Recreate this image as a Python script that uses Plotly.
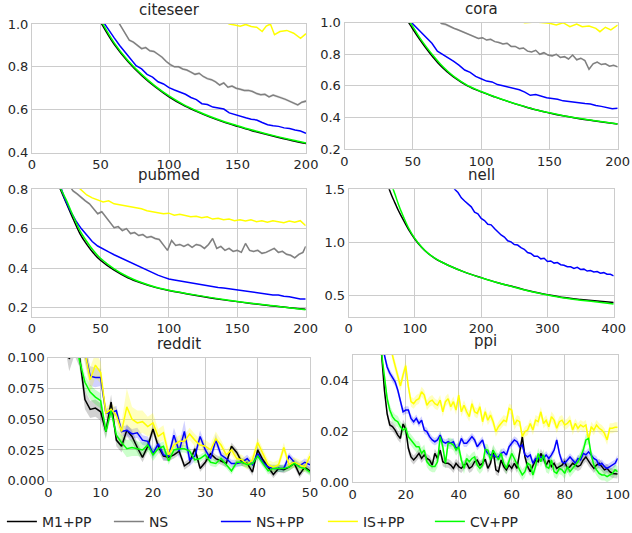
import plotly.graph_objects as go
from plotly.subplots import make_subplots

W, H = 632, 533
METHODS = ["M1+PP", "NS", "NS+PP", "IS+PP", "CV+PP"]
COLORS = {"M1+PP": "#000000", "NS": "#808080", "NS+PP": "#0000ff",
          "IS+PP": "#ffff00", "CV+PP": "#00ff00"}
BANDS = {"M1+PP": "rgba(0,0,0,0.18)", "NS": "rgba(128,128,128,0.2)",
         "NS+PP": "rgba(0,0,255,0.18)", "IS+PP": "rgba(255,255,0,0.25)",
         "CV+PP": "rgba(0,255,0,0.2)"}
TITLES = ["citeseer", "cora", "pubmed", "nell", "reddit", "ppi"]

# ---------------- citeseer ----------------
CITESEER_M1_X = [50, 60, 70, 80, 90, 100, 110, 120, 130, 140, 150, 160, 170, 180, 190, 200]
CITESEER_M1_Y = [1.01, 0.905, 0.825, 0.76, 0.706, 0.66, 0.622, 0.592, 0.565, 0.542, 0.522, 0.503, 0.486, 0.47, 0.455, 0.442]
CITESEER_CV_Y = [1.02, 0.912, 0.83, 0.765, 0.71, 0.664, 0.626, 0.595, 0.568, 0.545, 0.525, 0.506, 0.489, 0.473, 0.458, 0.444]
CITESEER_NSPP_X = list(range(52, 201, 4))
CITESEER_NSPP_Y = [1.01, 0.97, 0.935, 0.9, 0.87, 0.835, 0.805, 0.79, 0.765, 0.752,
                   0.73, 0.72, 0.703, 0.692, 0.683, 0.672, 0.657, 0.647, 0.628, 0.624,
                   0.612, 0.607, 0.603, 0.585, 0.577, 0.567, 0.562, 0.555, 0.552, 0.54,
                   0.53, 0.525, 0.522, 0.515, 0.512, 0.505, 0.5, 0.49]
CITESEER_NS_X = list(range(62, 201, 3))
CITESEER_NS_Y = [1.02, 0.99, 0.955, 0.925, 0.915, 0.9, 0.885, 0.89, 0.875, 0.872,
                 0.86, 0.845, 0.825, 0.81, 0.8, 0.8, 0.79, 0.785, 0.775, 0.765,
                 0.77, 0.755, 0.745, 0.74, 0.73, 0.715, 0.725, 0.705, 0.71, 0.7,
                 0.695, 0.69, 0.69, 0.685, 0.675, 0.67, 0.672, 0.66, 0.668, 0.66,
                 0.655, 0.648, 0.64, 0.632, 0.622, 0.635, 0.64]
CITESEER_IS_X = [138, 144, 148, 152, 156, 160, 164, 168, 171, 174, 177, 181, 186, 191, 196, 200]
CITESEER_IS_Y = [1.02, 1.0, 0.995, 0.99, 0.998, 0.988, 0.985, 0.965, 0.99, 1.0, 0.95, 0.965, 0.97, 0.957, 0.933, 0.955]

# ---------------- cora ----------------
CORA_M1_X = [47, 50, 55, 60, 65, 70, 75, 80, 90, 100, 110, 120, 130, 140, 150, 160, 170, 180, 190, 200]
CORA_M1_Y = [1.0, 0.96, 0.895, 0.835, 0.78, 0.73, 0.69, 0.655, 0.6, 0.562, 0.53, 0.5, 0.473, 0.448, 0.428, 0.41, 0.395, 0.382, 0.37, 0.358]
CORA_CV_X = [48, 50, 55, 60, 65, 70, 75, 80, 90, 100, 110, 120, 130, 140, 150, 160, 170, 180, 190, 200]
CORA_CV_Y = [1.0, 0.975, 0.905, 0.845, 0.79, 0.74, 0.697, 0.66, 0.603, 0.564, 0.531, 0.501, 0.474, 0.449, 0.429, 0.411, 0.396, 0.383, 0.371, 0.359]
CORA_NSPP_X = list(range(48, 201, 4))
CORA_NSPP_Y = [1.01, 0.975, 0.935, 0.9, 0.87, 0.82, 0.8, 0.78, 0.755, 0.73,
               0.7, 0.685, 0.66, 0.645, 0.63, 0.625, 0.608, 0.6, 0.593, 0.585,
               0.575, 0.56, 0.54, 0.545, 0.535, 0.525, 0.52, 0.515, 0.505, 0.5,
               0.495, 0.49, 0.488, 0.485, 0.475, 0.47, 0.462, 0.455, 0.458]
CORA_NS_X = list(range(68, 201, 3))
CORA_NS_Y = [1.02, 0.995, 0.99, 0.975, 0.965, 0.955, 0.945, 0.935, 0.925, 0.915,
             0.9, 0.905, 0.89, 0.895, 0.88, 0.875, 0.865, 0.87, 0.85, 0.85,
             0.835, 0.84, 0.82, 0.815, 0.825, 0.8, 0.81, 0.795, 0.79, 0.8,
             0.78, 0.785, 0.77, 0.795, 0.765, 0.775, 0.76, 0.705, 0.74, 0.75,
             0.735, 0.74, 0.725, 0.73, 0.72]
CORA_IS_X = [125, 132, 140, 146, 150, 155, 160, 165, 170, 174, 179, 184, 187, 191, 195, 200]
CORA_IS_Y = [1.02, 1.0, 1.005, 1.002, 0.996, 0.985, 1.0, 0.975, 0.992, 0.975, 0.979, 0.964, 0.943, 0.971, 0.954, 0.985]

# ---------------- pubmed ----------------
PUBMED_M1_X = [20, 25, 30, 35, 40, 45, 50, 60, 70, 80, 90, 100, 120, 140, 160, 180, 200]
PUBMED_M1_Y = [0.81, 0.73, 0.65, 0.575, 0.52, 0.475, 0.44, 0.39, 0.352, 0.325, 0.303, 0.287, 0.262, 0.24, 0.222, 0.206, 0.192]
PUBMED_CV_X = [21, 25, 30, 35, 40, 45, 50, 60, 70, 80, 90, 100, 120, 140, 160, 180, 200]
PUBMED_CV_Y = [0.8, 0.745, 0.665, 0.59, 0.535, 0.488, 0.45, 0.397, 0.357, 0.328, 0.305, 0.289, 0.264, 0.242, 0.223, 0.207, 0.19]
PUBMED_NSPP_X = list(range(20, 201, 4))
PUBMED_NSPP_Y = [0.83, 0.75, 0.69, 0.64, 0.6, 0.565, 0.535, 0.512, 0.495, 0.482,
                 0.468, 0.455, 0.44, 0.428, 0.418, 0.405, 0.39, 0.378, 0.365, 0.355,
                 0.345, 0.34, 0.335, 0.332, 0.325, 0.322, 0.318, 0.312, 0.305, 0.303,
                 0.3, 0.296, 0.29, 0.288, 0.283, 0.278, 0.275, 0.27, 0.268, 0.265,
                 0.265, 0.258, 0.256, 0.252, 0.245, 0.245]
PUBMED_NS_X = list(range(27, 199, 3)) + [200]
PUBMED_NS_Y = [0.82, 0.79, 0.775, 0.755, 0.74, 0.725, 0.7, 0.675, 0.685, 0.66,
               0.63, 0.605, 0.61, 0.59, 0.6, 0.575, 0.58, 0.565, 0.57, 0.555,
               0.56, 0.55, 0.545, 0.52, 0.49, 0.54, 0.515, 0.52, 0.51, 0.52,
               0.505, 0.52, 0.515, 0.5, 0.52, 0.55, 0.5, 0.51, 0.49, 0.5,
               0.485, 0.49, 0.48, 0.525, 0.49, 0.485, 0.49, 0.475, 0.48, 0.49,
               0.5, 0.48, 0.485, 0.47, 0.465, 0.452, 0.47, 0.48,
               0.51]
PUBMED_IS_X = list(range(32, 201, 4))
PUBMED_IS_Y = [0.82, 0.795, 0.77, 0.755, 0.745, 0.735, 0.74, 0.725, 0.72, 0.715,
               0.71, 0.705, 0.7, 0.69, 0.685, 0.68, 0.675, 0.678, 0.668, 0.672,
               0.665, 0.66, 0.662, 0.655, 0.66, 0.648, 0.652, 0.645, 0.648, 0.64,
               0.645, 0.638, 0.645, 0.635, 0.64, 0.632, 0.64, 0.635, 0.63, 0.638,
               0.632, 0.64, 0.615]

# ---------------- nell ----------------
NELL_M1_X = [60, 65, 70, 75, 80, 90, 100, 110, 120, 130, 140, 150, 175, 200, 225, 250, 275, 300, 325, 350, 375, 400]
NELL_M1_Y = [1.52, 1.44, 1.37, 1.3, 1.24, 1.125, 1.03, 0.955, 0.895, 0.85, 0.815, 0.785, 0.72, 0.668, 0.62, 0.58, 0.54, 0.508, 0.48, 0.462, 0.447, 0.434]
NELL_CV_X = [66, 70, 75, 80, 90, 100, 110, 120, 130, 140, 150, 175, 200, 225, 250, 275, 300, 325, 350, 375, 400]
NELL_CV_Y = [1.52, 1.45, 1.36, 1.28, 1.14, 1.035, 0.957, 0.896, 0.851, 0.815, 0.785, 0.72, 0.667, 0.619, 0.578, 0.538, 0.505, 0.476, 0.456, 0.438, 0.42]
NELL_NSPP_X = list(range(155, 401, 5))
NELL_NSPP_Y = [1.56, 1.5, 1.47, 1.42, 1.39, 1.365, 1.335, 1.285, 1.27, 1.225,
               1.205, 1.17, 1.165, 1.13, 1.095, 1.07, 1.05, 1.015, 1.005, 0.98,
               0.975, 0.95, 0.935, 0.905, 0.895, 0.87, 0.87, 0.845, 0.85, 0.82,
               0.825, 0.805, 0.81, 0.79, 0.785, 0.77, 0.77, 0.755, 0.765, 0.745,
               0.748, 0.73, 0.735, 0.722, 0.725, 0.71, 0.715, 0.7, 0.7, 0.685]

# ---------------- reddit ----------------
REDDIT_X = list(range(3, 51))
REDDIT_M1_Y = [0.125, 0.099, 0.112, 0.1, 0.066, 0.058, 0.059, 0.056, 0.04, 0.064,
               0.033, 0.028, 0.041, 0.036, 0.027, 0.019, 0.028, 0.042, 0.028, 0.02,
               0.019, 0.021, 0.024, 0.012, 0.015, 0.026, 0.01, 0.015, 0.022, 0.018,
               0.016, 0.014, 0.028, 0.023, 0.015, 0.014, 0.007, 0.025, 0.017, 0.011,
               0.005, 0.01, 0.009, 0.011, 0.014, 0.005, 0.011, 0.008]
REDDIT_NSPP_Y = [0.2, 0.17, 0.14, 0.12, 0.105, 0.085, 0.084, 0.084, 0.055, 0.055,
                 0.057, 0.04, 0.041, 0.038, 0.039, 0.033, 0.032, 0.022, 0.03, 0.021,
                 0.02, 0.037, 0.024, 0.04, 0.017, 0.02, 0.036, 0.025, 0.018, 0.033,
                 0.021, 0.018, 0.014, 0.014, 0.015, 0.018, 0.013, 0.022, 0.015, 0.011,
                 0.01, 0.01, 0.01, 0.02, 0.015, 0.012, 0.015, 0.013]
REDDIT_IS_Y = [0.2, 0.17, 0.14, 0.12, 0.105, 0.082, 0.094, 0.088, 0.055, 0.058,
               0.053, 0.04, 0.06, 0.05, 0.047, 0.048, 0.044, 0.047, 0.036, 0.039,
               0.021, 0.029, 0.032, 0.032, 0.038, 0.033, 0.029, 0.028, 0.025, 0.034,
               0.029, 0.021, 0.025, 0.018, 0.017, 0.013, 0.017, 0.031, 0.022, 0.013,
               0.011, 0.013, 0.027, 0.013, 0.015, 0.013, 0.011, 0.02]
REDDIT_CV_Y = [0.18, 0.15, 0.12, 0.097, 0.08, 0.072, 0.068, 0.065, 0.04, 0.057,
               0.037, 0.031, 0.026, 0.027, 0.026, 0.025, 0.029, 0.021, 0.026, 0.028,
               0.016, 0.025, 0.026, 0.026, 0.024, 0.017, 0.018, 0.021, 0.015, 0.014,
               0.018, 0.013, 0.008, 0.015, 0.015, 0.013, 0.014, 0.02, 0.014, 0.008,
               0.01, 0.01, 0.01, 0.011, 0.014, 0.011, 0.01, 0.007]
REDDIT_M1_STD = [0.012, 0.01, 0.01, 0.008, 0.008, 0.007, 0.007, 0.007, 0.006, 0.006,
                 0.005, 0.005, 0.005, 0.005, 0.004, 0.004, 0.004, 0.004, 0.004, 0.004] + [0.003] * 28
REDDIT_NSPP_STD = [0.01, 0.01, 0.01, 0.01, 0.008, 0.008, 0.008, 0.007, 0.004, 0.004,
                   0.004, 0.004, 0.004, 0.004, 0.004, 0.004, 0.004, 0.004, 0.004, 0.004,
                   0.004, 0.006, 0.006, 0.009, 0.005, 0.004, 0.005, 0.004, 0.004, 0.005] + [0.003] * 18
REDDIT_IS_STD = [0.012, 0.012, 0.01, 0.01, 0.01, 0.01, 0.01, 0.009, 0.005, 0.005,
                 0.006, 0.008, 0.015, 0.01, 0.01, 0.009, 0.008, 0.008, 0.006, 0.006,
                 0.005, 0.005, 0.005, 0.005, 0.005, 0.005, 0.005, 0.005, 0.005, 0.006] + [0.004] * 18
REDDIT_CV_STD = [0.008, 0.008, 0.007, 0.007, 0.006, 0.006, 0.006, 0.006, 0.005, 0.005,
                 0.005, 0.006, 0.007, 0.007, 0.006, 0.006, 0.005, 0.005, 0.004, 0.004] + [0.003] * 28

# ---------------- ppi ----------------
PPI_X = list(range(8, 101))
PPI_M1_Y = [0.09, 0.075, 0.06, 0.049, 0.036, 0.027, 0.0226, 0.022, 0.0206, 0.0186,
            0.0173, 0.023, 0.021, 0.0134, 0.01, 0.0088, 0.01, 0.0114, 0.0094, 0.0108,
            0.0094, 0.0088, 0.0068, 0.0114, 0.0094, 0.0127, 0.0081, 0.0075, 0.0075, 0.0068,
            0.0055, 0.0075, 0.0062, 0.0055, 0.0068, 0.0075, 0.0055, 0.0062, 0.0081, 0.0088,
            0.0068, 0.0075, 0.0091, 0.0055, 0.0075, 0.0127, 0.0049, 0.0042, 0.0088, 0.0062,
            0.0049, 0.0068, 0.0055, 0.0075, 0.0055, 0.0114, 0.018, 0.01, 0.0062, 0.0042,
            0.0068, 0.0088, 0.0081, 0.0114, 0.0094, 0.0068, 0.0088, 0.0062, 0.0075, 0.0055,
            0.0062, 0.0068, 0.0081, 0.0055, 0.0062, 0.0075, 0.0068, 0.0062, 0.0068, 0.0088,
            0.01, 0.0081, 0.0068, 0.0055, 0.0068, 0.0075, 0.0062, 0.0049, 0.0055, 0.0042,
            0.0035, 0.0035, 0.0033]
PPI_NSPP_Y = [0.1, 0.085, 0.07, 0.058, 0.05, 0.0455, 0.043, 0.041, 0.0396, 0.0364,
              0.0318, 0.0278, 0.0285, 0.0285, 0.0252, 0.0239, 0.0252, 0.0232, 0.0245, 0.0206,
              0.02, 0.018, 0.0167, 0.016, 0.0167, 0.0186, 0.016, 0.0154, 0.016, 0.0154,
              0.016, 0.0134, 0.014, 0.0173, 0.0154, 0.0154, 0.0167, 0.018, 0.0167, 0.014,
              0.0154, 0.0167, 0.013, 0.0114, 0.0108, 0.0108, 0.01, 0.01, 0.0114, 0.012,
              0.0108, 0.014, 0.0154, 0.0167, 0.016, 0.014, 0.0147, 0.0108, 0.01, 0.0108,
              0.0075, 0.0094, 0.0094, 0.01, 0.0094, 0.0108, 0.0094, 0.0108, 0.0127, 0.0167,
              0.0114, 0.0081, 0.0075, 0.0088, 0.01, 0.0088, 0.0075, 0.0094, 0.0088, 0.0114,
              0.0108, 0.012, 0.0108, 0.0094, 0.0088, 0.0068, 0.0075, 0.0062, 0.0055, 0.0062,
              0.0068, 0.0075, 0.0094]
PPI_IS_Y = [0.12, 0.11, 0.1, 0.09, 0.08, 0.07, 0.058, 0.05, 0.046, 0.0415,
            0.038, 0.0423, 0.046, 0.0377, 0.0318, 0.031, 0.0324, 0.033, 0.0357, 0.0344,
            0.0304, 0.0318, 0.0324, 0.031, 0.0304, 0.0324, 0.0278, 0.0318, 0.033, 0.0298,
            0.0318, 0.0285, 0.0344, 0.0278, 0.0304, 0.0278, 0.0259, 0.031, 0.0278, 0.0272,
            0.0298, 0.0239, 0.0278, 0.0245, 0.0265, 0.0239, 0.02, 0.0219, 0.0232, 0.0245,
            0.0239, 0.0291, 0.0285, 0.0226, 0.0245, 0.0239, 0.018, 0.02, 0.0206, 0.0232,
            0.0206, 0.0245, 0.0239, 0.0278, 0.0232, 0.0245, 0.0219, 0.0259, 0.0245, 0.0213,
            0.0239, 0.0245, 0.0226, 0.0232, 0.0245, 0.0206, 0.0232, 0.0213, 0.0226, 0.0219,
            0.0226, 0.0167, 0.0219, 0.0206, 0.0226, 0.0213, 0.0206, 0.0193, 0.0167, 0.0213,
            0.0213, 0.0217, 0.0217]
PPI_CV_Y = [0.1, 0.08, 0.062, 0.05, 0.0403, 0.033, 0.0285, 0.0259, 0.0245, 0.0239,
            0.0219, 0.0206, 0.0213, 0.018, 0.0167, 0.0154, 0.014, 0.014, 0.0114, 0.0127,
            0.0081, 0.0068, 0.0062, 0.0062, 0.0081, 0.018, 0.014, 0.0075, 0.0154, 0.0154,
            0.0147, 0.0127, 0.014, 0.0088, 0.0055, 0.0094, 0.0081, 0.0094, 0.01, 0.0068,
            0.0055, 0.0068, 0.013, 0.0127, 0.0088, 0.0127, 0.0108, 0.0088, 0.0114, 0.0075,
            0.0055, 0.0088, 0.0114, 0.0094, 0.0068, 0.0049, 0.0029, 0.0042, 0.0075, 0.0068,
            0.0029, 0.0062, 0.0114, 0.0081, 0.0108, 0.0062, 0.0055, 0.0088, 0.0042, 0.0035,
            0.0055, 0.0049, 0.0035, 0.0062, 0.0042, 0.0055, 0.0068, 0.0081, 0.01, 0.0127,
            0.0167, 0.0173, 0.0108, 0.0068, 0.0049, 0.0035, 0.0029, 0.0029, 0.0022, 0.0029,
            0.0035, 0.0049, 0.0042]
PPI_STD = {"M1+PP": 0.0018, "NS+PP": 0.0015, "IS+PP": 0.002, "CV+PP": 0.0022}
NS_STD = 0.006

# axis ranges / ticks
X_RANGES = [[0, 200], [0, 200], [0, 200], [0, 400], [0, 50], [0, 100]]
X_TICKS = [[0, 50, 100, 150, 200]] * 3 + [[0, 100, 200, 300, 400], [0, 10, 20, 30, 40, 50],
                                           [0, 20, 40, 60, 80, 100]]
Y_RANGES = [[0.4, 1.0], [0.2, 1.0], [0.155, 0.8], [0.3, 1.5], [0, 0.1], [0, 0.0502]]
Y_TICKS = [[0.4, 0.6, 0.8, 1.0], [0.2, 0.4, 0.6, 0.8, 1.0], [0.2, 0.4, 0.6, 0.8],
           [0.5, 1.0, 1.5], [0, 0.025, 0.05, 0.075, 0.1], [0, 0.02, 0.04]]
Y_FMT = [".1f", ".1f", ".1f", ".1f", ".3f", ".2f"]

# pixel boxes of each plot area (left, right, top, bottom)
BOXES = [(32, 306, 24, 152.5), (344.5, 617.7, 22.7, 149), (32, 305.7, 189, 316.7),
         (348.7, 613.7, 189.3, 316.7), (48.3, 310, 357.7, 480.7), (352.7, 617.7, 355, 482.3)]

DATA = [
    {"M1+PP": (CITESEER_M1_X, CITESEER_M1_Y, None, "spline"),
     "NS": (CITESEER_NS_X, CITESEER_NS_Y, NS_STD, "linear"),
     "NS+PP": (CITESEER_NSPP_X, CITESEER_NSPP_Y, None, "linear"),
     "IS+PP": (CITESEER_IS_X, CITESEER_IS_Y, None, "linear"),
     "CV+PP": (CITESEER_M1_X, CITESEER_CV_Y, None, "spline")},
    {"M1+PP": (CORA_M1_X, CORA_M1_Y, None, "spline"),
     "NS": (CORA_NS_X, CORA_NS_Y, NS_STD, "linear"),
     "NS+PP": (CORA_NSPP_X, CORA_NSPP_Y, None, "linear"),
     "IS+PP": (CORA_IS_X, CORA_IS_Y, None, "linear"),
     "CV+PP": (CORA_CV_X, CORA_CV_Y, None, "spline")},
    {"M1+PP": (PUBMED_M1_X, PUBMED_M1_Y, None, "spline"),
     "NS": (PUBMED_NS_X, PUBMED_NS_Y, NS_STD, "linear"),
     "NS+PP": (PUBMED_NSPP_X, PUBMED_NSPP_Y, None, "linear"),
     "IS+PP": (PUBMED_IS_X, PUBMED_IS_Y, None, "linear"),
     "CV+PP": (PUBMED_CV_X, PUBMED_CV_Y, None, "spline")},
    {"M1+PP": (NELL_M1_X, NELL_M1_Y, None, "spline"),
     "NS+PP": (NELL_NSPP_X, NELL_NSPP_Y, None, "linear"),
     "CV+PP": (NELL_CV_X, NELL_CV_Y, None, "spline")},
    {"M1+PP": (REDDIT_X, REDDIT_M1_Y, REDDIT_M1_STD, "linear"),
     "NS+PP": (REDDIT_X, REDDIT_NSPP_Y, REDDIT_NSPP_STD, "linear"),
     "IS+PP": (REDDIT_X, REDDIT_IS_Y, REDDIT_IS_STD, "linear"),
     "CV+PP": (REDDIT_X, REDDIT_CV_Y, REDDIT_CV_STD, "linear")},
    {"M1+PP": (PPI_X, PPI_M1_Y, PPI_STD["M1+PP"], "linear"),
     "NS+PP": (PPI_X, PPI_NSPP_Y, PPI_STD["NS+PP"], "linear"),
     "IS+PP": (PPI_X, PPI_IS_Y, PPI_STD["IS+PP"], "linear"),
     "CV+PP": (PPI_X, PPI_CV_Y, PPI_STD["CV+PP"], "linear")},
]

fig = make_subplots(rows=3, cols=2)

for i, dset in enumerate(DATA):
    r, c = i // 2 + 1, i % 2 + 1
    for m in METHODS:
        if m not in dset:
            continue
        xs, ys, sd, shape = dset[m]
        if len(xs) != len(ys):
            raise ValueError(f"{TITLES[i]} {m}: {len(xs)} x vs {len(ys)} y")
        if sd is None:
            continue
        sds = sd if isinstance(sd, list) else [sd] * len(ys)
        if len(sds) != len(ys):
            raise ValueError(f"{TITLES[i]} {m} std length {len(sds)} vs {len(ys)}")
        up = [y + s for y, s in zip(ys, sds)]
        lo = [y - s for y, s in zip(ys, sds)]
        fig.add_trace(go.Scatter(x=list(xs) + list(xs)[::-1], y=up + lo[::-1],
                                 fill="toself", fillcolor=BANDS[m], line=dict(width=0),
                                 mode="lines", showlegend=False, hoverinfo="skip"),
                      row=r, col=c)
    for m in METHODS:
        if m not in dset:
            continue
        xs, ys, sd, shape = dset[m]
        fig.add_trace(go.Scatter(x=xs, y=ys, mode="lines", name=m, legendgroup=m,
                                 line=dict(color=COLORS[m], width=1.5, shape=shape),
                                 showlegend=(i == 0)),
                      row=r, col=c)

axis_common = dict(showline=True, linecolor="#cccccc", linewidth=1, mirror=True,
                   showgrid=True, gridcolor="#cccccc", gridwidth=1, zeroline=False,
                   automargin=False, ticks="",
                   tickfont=dict(family="DejaVu Sans", size=13, color="#262626"))

annotations = []
for i, (l, rr, t, b) in enumerate(BOXES):
    sfx = "" if i == 0 else str(i + 1)
    xd = [l / W, rr / W]
    yd = [1 - b / H, 1 - t / H]
    fig.layout["xaxis" + sfx].update(domain=xd, range=X_RANGES[i], tickvals=X_TICKS[i], **axis_common)
    fig.layout["yaxis" + sfx].update(domain=yd, range=Y_RANGES[i], tickvals=Y_TICKS[i],
                                     tickformat=Y_FMT[i], **axis_common)
    annotations.append(dict(text=TITLES[i], x=(xd[0] + xd[1]) / 2, y=yd[1], xref="paper", yref="paper",
                            xanchor="center", yanchor="bottom", yshift=3, showarrow=False,
                            font=dict(family="DejaVu Sans", size=15, color="#262626")))

fig.update_layout(
    width=W, height=H, margin=dict(l=0, r=0, t=0, b=0, autoexpand=False),
    paper_bgcolor="white", plot_bgcolor="white",
    font=dict(family="DejaVu Sans", color="#262626"),
    annotations=annotations,
    legend=dict(orientation="h", x=0.003, xanchor="left", y=0.021, yanchor="middle",
                font=dict(family="DejaVu Sans", size=14, color="#262626"),
                entrywidth=62, entrywidthmode="pixels", itemwidth=30,
                bgcolor="rgba(0,0,0,0)", borderwidth=0),
    showlegend=True,
)

fig.write_html("out.html", config={"displayModeBar": False},
               post_script="document.body.style.margin='0px';document.body.style.overflow='hidden';")
